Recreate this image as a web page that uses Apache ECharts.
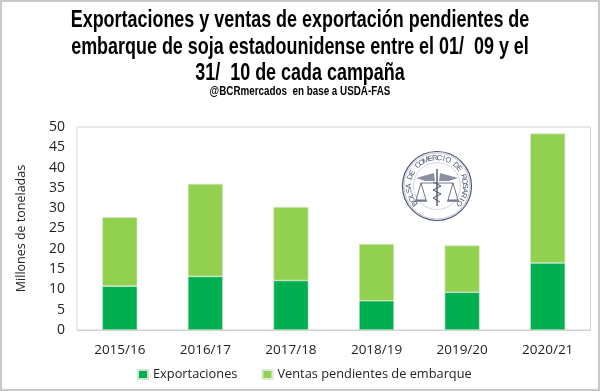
<!DOCTYPE html>
<html><head><meta charset="utf-8">
<style>html,body{margin:0;padding:0;background:#fff}#c{width:600px;height:391px}</style>
<script src="https://cdn.jsdelivr.net/npm/echarts@6/dist/echarts.min.js"></script>
</head><body><div id="c"></div>
<script>
const categories=['2015/16','2016/17','2017/18','2018/19','2019/20','2020/21'];
const exportaciones=[10.8,13.2,12.2,7.2,9.3,16.5];
const pendientes=[17.0,22.8,18.1,14.0,11.5,31.9];
const yTicks={min:0,max:50,interval:5};
const titleLines=['Exportaciones y ventas de exportación pendientes de','embarque de soja estadounidense entre el 01/  09 y el','31/  10 de cada campaña'];
const subtitle='@BCRmercados  en base a USDA-FAS';
const sealText='BOLSA DE COMERCIO DE ROSARIO';
const chart=echarts.init(document.getElementById('c'),null,{renderer:'canvas'});
const titleFont='"Liberation Sans",sans-serif';
const bodyFont='"Open Sans","Noto Sans",sans-serif';
const seal=[];
const cx=437,cy=186,navy='#4a5470';
const add=o=>seal.push(Object.assign({silent:true},o));
add({type:'circle',shape:{cx,cy,r:34.5},style:{fill:'none',stroke:navy,lineWidth:1.2}});
add({type:'circle',shape:{cx,cy,r:33},style:{fill:'none',stroke:'#8a92a6',lineWidth:.5}});
add({type:'circle',shape:{cx,cy,r:23.5},style:{fill:'none',stroke:'#a8aebc',lineWidth:.5}});
const n=sealText.length;
for(let i=0;i<n;i++){
  const a=(-128+i*256/(n-1))*Math.PI/180;
  add({type:'text',x:cx+28*Math.sin(a),y:cy-28*Math.cos(a),rotation:-a,
    style:{text:sealText[i],font:'7.5px "Liberation Sans",sans-serif',fill:navy,align:'center',verticalAlign:'middle'}});
}
add({type:'line',shape:{x1:cx,y1:cy-17,x2:cx,y2:cy+20},style:{stroke:navy,lineWidth:1.4}});
add({type:'polygon',shape:{points:[[cx-21,cy-8],[cx-3,cy-13],[cx-2,cy-5],[cx-12,cy-5]]},style:{fill:navy,opacity:.65}});
add({type:'polygon',shape:{points:[[cx+21,cy-8],[cx+3,cy-13],[cx+2,cy-5],[cx+12,cy-5]]},style:{fill:navy,opacity:.65}});
[-1,1].forEach(s=>{
  add({type:'polygon',shape:{points:[[cx+s*16,cy-3],[cx+s*11,cy+14],[cx+s*21,cy+14]]},style:{fill:'none',stroke:navy,lineWidth:.8}});
  add({type:'line',shape:{x1:cx+s*10,y1:cy+15,x2:cx+s*22,y2:cy+15},style:{stroke:navy,lineWidth:1.2}});
});
add({type:'polyline',shape:{points:[[cx-4,cy-4],[cx+4,cy],[cx-4,cy+4],[cx+4,cy+8],[cx-4,cy+12],[cx+3,cy+16]]},style:{fill:'none',stroke:navy,lineWidth:1}});
add({type:'line',shape:{x1:cx-16,y1:cy-3,x2:cx+16,y2:cy-3},style:{stroke:navy,lineWidth:.8}});
chart.setOption({
  animation:false,
  backgroundColor:'#fff',
  grid:{left:77,right:9.5,top:127,bottom:61,show:true,borderColor:'#d2d2d2',borderWidth:1,backgroundColor:'transparent'},
  legend:{bottom:5,left:132,itemWidth:10,itemHeight:9,itemGap:24,icon:'rect',
    textStyle:{fontFamily:bodyFont,fontSize:12.8,color:'#222'},data:['Exportaciones','Ventas pendientes de embarque']},
  xAxis:{type:'category',data:categories,axisTick:{show:false},
    axisLine:{lineStyle:{color:'#d2d2d2',width:1}},
    axisLabel:{margin:13,fontFamily:bodyFont,fontSize:13.5,color:'#222'}},
  yAxis:{type:'value',min:yTicks.min,max:yTicks.max,interval:yTicks.interval,
    name:'Millones de toneladas',nameLocation:'middle',nameGap:49,
    nameTextStyle:{fontFamily:bodyFont,fontSize:12.5,color:'#222'},
    splitLine:{show:false},axisLine:{show:true,lineStyle:{color:'#ececec'}},axisTick:{show:false},
    axisLabel:{margin:12,fontFamily:bodyFont,fontSize:14,color:'#222'}},
  series:[
    {name:'Exportaciones',type:'bar',stack:'t',data:exportaciones,barWidth:35,itemStyle:{color:'#00b050',borderColor:'#cfe3cf',borderWidth:.6}},
    {name:'Ventas pendientes de embarque',type:'bar',stack:'t',data:pendientes,barWidth:35,itemStyle:{color:'#92d050',borderColor:'#dfe8d5',borderWidth:.6}}
  ],
  graphic:[
    {type:'rect',shape:{x:1,y:1,width:598,height:389},style:{fill:'none',stroke:'#c9c9c9',lineWidth:2},silent:true},
    {type:'group',children:seal},
    ...titleLines.map((t,i)=>({type:'text',x:300,y:21+i*26.5,scaleX:.78,style:{text:t,font:'bold 23px '+titleFont,fill:'#000',align:'center',verticalAlign:'middle'},silent:true})),
    {type:'text',x:300,y:92,scaleX:.82,style:{text:subtitle,font:'bold 12px '+titleFont,fill:'#000',align:'center',verticalAlign:'middle'},silent:true}
  ]
});
</script></body></html>
